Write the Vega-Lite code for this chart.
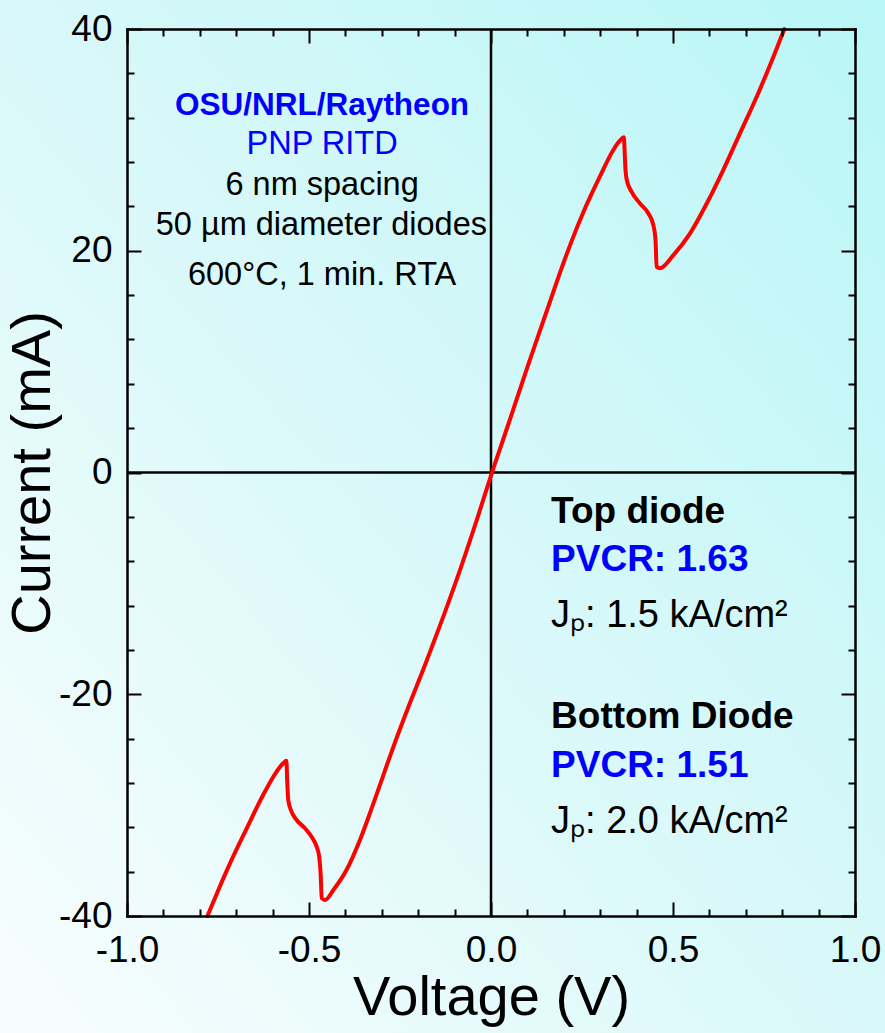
{
  "$schema": "https://vega.github.io/schema/vega-lite/v6.json",
  "width": 728,
  "height": 887,
  "autosize": {"type": "none"},
  "padding": {"left": 127, "top": 29, "right": 30, "bottom": 117},
  "background": "#e2f9fa",
  "config": {"view": {"stroke": null}, "font": "Liberation Sans"},
  "datasets": {
    "iv": [
      {"v": -0.779, "i": -40.0},
      {"v": -0.749, "i": -37.65},
      {"v": -0.717, "i": -35.25},
      {"v": -0.671, "i": -32.09},
      {"v": -0.626, "i": -29.09},
      {"v": -0.589, "i": -26.98},
      {"v": -0.571, "i": -26.23},
      {"v": -0.562, "i": -26.0},
      {"v": -0.560, "i": -27.74},
      {"v": -0.557, "i": -29.54},
      {"v": -0.548, "i": -30.59},
      {"v": -0.534, "i": -31.34},
      {"v": -0.511, "i": -32.09},
      {"v": -0.493, "i": -32.85},
      {"v": -0.479, "i": -33.75},
      {"v": -0.472, "i": -34.65},
      {"v": -0.468, "i": -36.15},
      {"v": -0.465, "i": -38.40},
      {"v": -0.456, "i": -38.56},
      {"v": -0.433, "i": -37.65},
      {"v": -0.397, "i": -35.85},
      {"v": -0.360, "i": -33.14},
      {"v": -0.323, "i": -29.84},
      {"v": -0.268, "i": -24.73},
      {"v": -0.223, "i": -20.82},
      {"v": -0.177, "i": -17.0},
      {"v": -0.131, "i": -13.0},
      {"v": -0.085, "i": -8.79},
      {"v": -0.039, "i": -4.28},
      {"v": 0.002, "i": -0.07},
      {"v": 0.043, "i": 3.9},
      {"v": 0.100, "i": 9.5},
      {"v": 0.162, "i": 15.4},
      {"v": 0.185, "i": 17.6},
      {"v": 0.208, "i": 19.7},
      {"v": 0.254, "i": 23.5},
      {"v": 0.299, "i": 26.68},
      {"v": 0.336, "i": 29.09},
      {"v": 0.354, "i": 29.93},
      {"v": 0.365, "i": 30.23},
      {"v": 0.367, "i": 29.09},
      {"v": 0.369, "i": 27.58},
      {"v": 0.373, "i": 26.38},
      {"v": 0.386, "i": 25.33},
      {"v": 0.409, "i": 24.28},
      {"v": 0.432, "i": 23.38},
      {"v": 0.446, "i": 22.32},
      {"v": 0.452, "i": 20.97},
      {"v": 0.455, "i": 18.56},
      {"v": 0.464, "i": 18.42},
      {"v": 0.501, "i": 19.6},
      {"v": 0.547, "i": 21.57},
      {"v": 0.593, "i": 24.28},
      {"v": 0.638, "i": 27.28},
      {"v": 0.684, "i": 30.59},
      {"v": 0.730, "i": 33.89},
      {"v": 0.776, "i": 37.5},
      {"v": 0.806, "i": 40.0}
    ],
    "notes": [
      {"label": "OSU/NRL/Raytheon", "v": -0.464, "i": 32.24, "grp": "head"},
      {"label": "PNP RITD", "v": -0.464, "i": 28.73, "grp": "sub"},
      {"label": "6 nm spacing", "v": -0.464, "i": 25.03, "grp": "info"},
      {"label": "50 µm diameter diodes", "v": -0.466, "i": 21.42, "grp": "info"},
      {"label": "600°C, 1 min. RTA", "v": -0.464, "i": 16.91, "grp": "info"},
      {"label": "Top diode", "v": 0.165, "i": -4.53, "grp": "diode"},
      {"label": "Bottom Diode", "v": 0.165, "i": -23.04, "grp": "diode"},
      {"label": "PVCR: 1.63", "v": 0.165, "i": -8.86, "grp": "pvcr"},
      {"label": "PVCR: 1.51", "v": 0.165, "i": -27.46, "grp": "pvcr"},
      {"label": "Jₚ: 1.5 kA/cm²", "v": 0.165, "i": -13.91, "grp": "jp"},
      {"label": "Jₚ: 2.0 kA/cm²", "v": 0.165, "i": -32.51, "grp": "jp"}
    ]
  },
  "resolve": {"axis": {"x": "independent", "y": "independent"}},
  "layer": [
    {
      "data": {"values": [{}]},
      "mark": {
        "type": "rect",
        "clip": false,
        "fill": {
          "gradient": "linear",
          "x1": 0, "y1": 1, "x2": 1, "y2": 0,
          "stops": [
            {"offset": 0, "color": "#f8fdfd"},
            {"offset": 0.55, "color": "#d6f8f9"},
            {"offset": 1, "color": "#b9f6f7"}
          ]
        }
      },
      "encoding": {
        "x": {"datum": -1.36, "type": "quantitative", "scale": {"domain": [-1, 1], "nice": false, "zero": false}, "axis": null},
        "x2": {"datum": 1.09},
        "y": {"datum": -51, "type": "quantitative", "scale": {"domain": [-40, 40], "nice": false, "zero": false}, "axis": null},
        "y2": {"datum": 43}
      }
    },
    {
      "data": {"values": [{}]},
      "mark": {"type": "rule", "color": "black", "strokeWidth": 2.5},
      "encoding": {
        "x": {"datum": 0, "type": "quantitative", "scale": {"domain": [-1, 1], "nice": false, "zero": false}, "axis": null}
      }
    },
    {
      "data": {"values": [{}]},
      "mark": {"type": "rule", "color": "black", "strokeWidth": 2.5},
      "encoding": {
        "y": {"datum": 0, "type": "quantitative", "scale": {"domain": [-40, 40], "nice": false, "zero": false}, "axis": null}
      }
    },
    {
      "data": {"name": "iv"},
      "mark": {"type": "line", "color": "#ff0000", "strokeWidth": 4, "strokeJoin": "round", "strokeCap": "round", "interpolate": "monotone"},
      "encoding": {
        "x": {
          "field": "v", "type": "quantitative",
          "scale": {"domain": [-1, 1], "nice": false, "zero": false},
          "axis": {
            "orient": "bottom", "values": [-1, -0.5, 0, 0.5, 1], "format": ".1f",
            "labelExpr": "replace(datum.label, '\u2212', '-')",
            "domain": true, "domainColor": "black", "domainWidth": 2.5, "domainCap": "square",
            "ticks": true, "tickColor": "black", "tickWidth": 2, "tickSize": -14,
            "grid": false, "zindex": 1,
            "labelFontSize": 37, "labelColor": "black", "labelFont": "Liberation Sans",
            "labelFlush": false, "labelOverlap": false, "labelPadding": 30,
            "title": "Voltage (V)", "titleFontSize": 56, "titleFontWeight": "normal",
            "titleColor": "black", "titleFont": "Liberation Sans", "titlePadding": 2
          }
        },
        "y": {
          "field": "i", "type": "quantitative",
          "scale": {"domain": [-40, 40], "nice": false, "zero": false},
          "axis": {
            "orient": "left", "values": [-40, -20, 0, 20, 40], "format": "d",
            "labelExpr": "replace(datum.label, '\u2212', '-')",
            "domain": true, "domainColor": "black", "domainWidth": 2.5, "domainCap": "square",
            "ticks": true, "tickColor": "black", "tickWidth": 2, "tickSize": -14,
            "grid": false, "zindex": 1,
            "labelFontSize": 37, "labelColor": "black", "labelFont": "Liberation Sans",
            "labelFlush": false, "labelOverlap": false, "labelPadding": 29,
            "title": "Current (mA)", "titleFontSize": 56, "titleFontWeight": "normal",
            "titleColor": "black", "titleFont": "Liberation Sans", "titlePadding": -3
          }
        }
      }
    },
    {
      "data": {"name": "notes"},
      "transform": [{"filter": "datum.grp === 'head'"}],
      "mark": {"type": "text", "font": "Liberation Sans", "fontWeight": "bold", "fontSize": 31.5, "color": "#0000ff", "align": "center", "baseline": "alphabetic"},
      "encoding": {
        "text": {"field": "label"},
        "x": {
          "field": "v", "type": "quantitative",
          "scale": {"domain": [-1, 1], "nice": false, "zero": false},
          "axis": {
            "orient": "bottom",
            "values": [-0.9, -0.8, -0.7, -0.6, -0.4, -0.3, -0.2, -0.1, 0.1, 0.2, 0.3, 0.4, 0.6, 0.7, 0.8, 0.9],
            "domain": false, "labels": false, "grid": false, "title": null,
            "ticks": true, "tickColor": "black", "tickWidth": 2, "tickSize": -7, "zindex": 1
          }
        },
        "y": {
          "field": "i", "type": "quantitative",
          "scale": {"domain": [-40, 40], "nice": false, "zero": false},
          "axis": {
            "orient": "left",
            "values": [-36, -32, -28, -24, -16, -12, -8, -4, 4, 8, 12, 16, 24, 28, 32, 36],
            "domain": false, "labels": false, "grid": false, "title": null,
            "ticks": true, "tickColor": "black", "tickWidth": 2, "tickSize": -7, "zindex": 1
          }
        }
      }
    },
    {
      "data": {"name": "notes"},
      "transform": [{"filter": "datum.grp === 'sub'"}],
      "mark": {"type": "text", "font": "Liberation Sans", "fontSize": 32.5, "color": "#0000ff", "align": "center", "baseline": "alphabetic"},
      "encoding": {
        "text": {"field": "label"},
        "x": {
          "field": "v", "type": "quantitative",
          "scale": {"domain": [-1, 1], "nice": false, "zero": false},
          "axis": {
            "orient": "top", "values": [-1, -0.5, 0, 0.5, 1],
            "domain": true, "domainColor": "black", "domainWidth": 2.5, "domainCap": "square",
            "labels": false, "grid": false, "title": null,
            "ticks": true, "tickColor": "black", "tickWidth": 2, "tickSize": -14, "zindex": 1
          }
        },
        "y": {
          "field": "i", "type": "quantitative",
          "scale": {"domain": [-40, 40], "nice": false, "zero": false},
          "axis": {
            "orient": "right", "values": [-40, -20, 0, 20, 40],
            "domain": true, "domainColor": "black", "domainWidth": 2.5, "domainCap": "square",
            "labels": false, "grid": false, "title": null,
            "ticks": true, "tickColor": "black", "tickWidth": 2, "tickSize": -14, "zindex": 1
          }
        }
      }
    },
    {
      "data": {"name": "notes"},
      "transform": [{"filter": "datum.grp === 'info'"}],
      "mark": {"type": "text", "font": "Liberation Sans", "fontSize": 32.5, "color": "black", "align": "center", "baseline": "alphabetic"},
      "encoding": {
        "text": {"field": "label"},
        "x": {
          "field": "v", "type": "quantitative",
          "scale": {"domain": [-1, 1], "nice": false, "zero": false},
          "axis": {
            "orient": "top",
            "values": [-0.9, -0.8, -0.7, -0.6, -0.4, -0.3, -0.2, -0.1, 0.1, 0.2, 0.3, 0.4, 0.6, 0.7, 0.8, 0.9],
            "domain": false, "labels": false, "grid": false, "title": null,
            "ticks": true, "tickColor": "black", "tickWidth": 2, "tickSize": -7, "zindex": 1
          }
        },
        "y": {
          "field": "i", "type": "quantitative",
          "scale": {"domain": [-40, 40], "nice": false, "zero": false},
          "axis": {
            "orient": "right",
            "values": [-36, -32, -28, -24, -16, -12, -8, -4, 4, 8, 12, 16, 24, 28, 32, 36],
            "domain": false, "labels": false, "grid": false, "title": null,
            "ticks": true, "tickColor": "black", "tickWidth": 2, "tickSize": -7, "zindex": 1
          }
        }
      }
    },
    {
      "data": {"name": "notes"},
      "transform": [{"filter": "datum.grp === 'diode'"}],
      "mark": {"type": "text", "font": "Liberation Sans", "fontWeight": "bold", "fontSize": 37, "color": "black", "align": "left", "baseline": "alphabetic"},
      "encoding": {
        "text": {"field": "label"},
        "x": {"field": "v", "type": "quantitative", "scale": {"domain": [-1, 1], "nice": false, "zero": false}, "axis": null},
        "y": {"field": "i", "type": "quantitative", "scale": {"domain": [-40, 40], "nice": false, "zero": false}, "axis": null}
      }
    },
    {
      "data": {"name": "notes"},
      "transform": [{"filter": "datum.grp === 'pvcr'"}],
      "mark": {"type": "text", "font": "Liberation Sans", "fontWeight": "bold", "fontSize": 37, "color": "#0000ff", "align": "left", "baseline": "alphabetic"},
      "encoding": {
        "text": {"field": "label"},
        "x": {"field": "v", "type": "quantitative", "scale": {"domain": [-1, 1], "nice": false, "zero": false}, "axis": null},
        "y": {"field": "i", "type": "quantitative", "scale": {"domain": [-40, 40], "nice": false, "zero": false}, "axis": null}
      }
    },
    {
      "data": {"name": "notes"},
      "transform": [{"filter": "datum.grp === 'jp'"}],
      "mark": {"type": "text", "font": "Liberation Sans", "fontSize": 38, "color": "black", "align": "left", "baseline": "alphabetic"},
      "encoding": {
        "text": {"field": "label"},
        "x": {"field": "v", "type": "quantitative", "scale": {"domain": [-1, 1], "nice": false, "zero": false}, "axis": null},
        "y": {"field": "i", "type": "quantitative", "scale": {"domain": [-40, 40], "nice": false, "zero": false}, "axis": null}
      }
    }
  ]
}
